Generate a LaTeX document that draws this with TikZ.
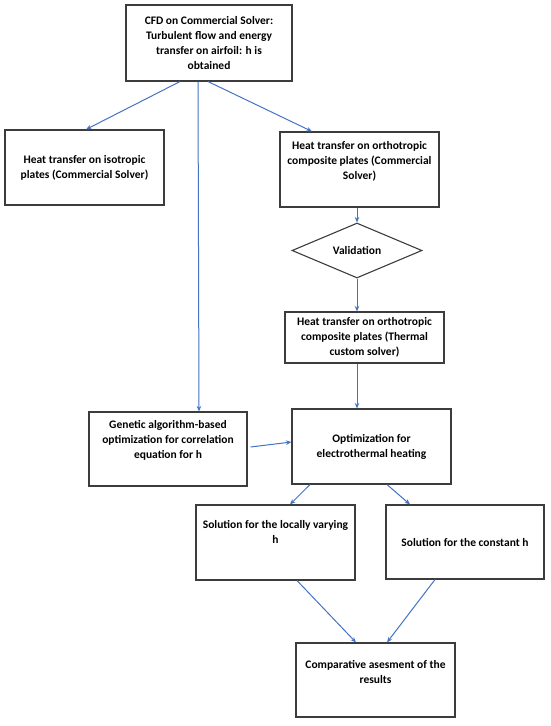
\documentclass[tikz,border=0pt]{standalone}
\usepackage{fontspec}
\setmainfont{Carlito}
\usetikzlibrary{shapes.geometric,arrows.meta}
\definecolor{arrowblue}{RGB}{68,114,196}
\definecolor{boxgray}{RGB}{60,60,60}
\begin{document}
\begin{tikzpicture}[x=1pt,y=-1pt,
  box/.style={draw=boxgray,line width=1.1pt,inner sep=0pt,align=center,
    font=\fontsize{11.5}{15}\selectfont\bfseries},
  arr/.style={draw=arrowblue,line width=1pt,-{Stealth[length=5.5pt,width=4.5pt]}}]
\useasboundingbox (0,0) rectangle (550,726);
\node[box,minimum width=166pt,minimum height=76pt] (top) at (209,43)
  {CFD on Commercial Solver:\\Turbulent flow and energy\\transfer on airfoil: h is\\obtained};
\node[box,minimum width=159pt,minimum height=75pt] (iso) at (84.5,167.5)
  {Heat transfer on isotropic\\plates (Commercial Solver)};
\node[box,minimum width=159pt,minimum height=75pt] (ortho) at (359.5,169.5)
  {Heat transfer on orthotropic\\composite plates (Commercial\\Solver)\\[4pt]};
\node[box,diamond,shape aspect=2.4,minimum width=130pt,minimum height=55pt] (valid) at (357,250.5)
  {Validation};
\node[box,minimum width=159pt,minimum height=51pt] (thermal) at (364.5,337.5)
  {Heat transfer on orthotropic\\composite plates (Thermal\\custom solver)};
\node[box,minimum width=158pt,minimum height=74pt] (genetic) at (168,449)
  {Genetic algorithm-based\\optimization for correlation\\equation for h\\[4pt]};
\node[box,minimum width=159pt,minimum height=75pt] (opt) at (371.5,446.5)
  {Optimization for\\electrothermal heating};
\node[box,minimum width=159pt,minimum height=75pt] (local) at (275.5,542.5)
  {Solution for the locally varying\\h\\[6pt]};
\node[box,minimum width=158pt,minimum height=74pt] (const) at (465,542)
  {Solution for the constant h};
\node[box,minimum width=159pt,minimum height=74pt] (comp) at (375.5,680)
  {Comparative asesment of the\\results\\[2pt]};
\draw[arr] ([xshift=-29pt]top.south) -- ([xshift=1.5pt]iso.north);
\draw[arr] ([xshift=-11pt]top.south) -- ([xshift=31pt]genetic.north);
\draw[arr] ([xshift=-1pt]top.south) -- ([xshift=-47.5pt]ortho.north);
\draw[arr] ([xshift=-2.5pt]ortho.south) -- (valid.north);
\draw[arr] (valid.south) -- ([xshift=-7.5pt]thermal.north);
\draw[arr] ([xshift=-7.5pt]thermal.south) -- ([xshift=-14.5pt]opt.north);
\draw[arr] ([xshift=3pt,yshift=2pt]genetic.east) -- ([yshift=4.5pt]opt.west);
\draw[arr] ([xshift=-61.5pt]opt.south) -- ([xshift=14.5pt]local.north);
\draw[arr] ([xshift=15.5pt]opt.south) -- ([xshift=-55pt]const.north);
\draw[arr] ([xshift=21.5pt]local.south) -- ([xshift=-19.5pt]comp.north);
\draw[arr] ([xshift=-30pt]const.south) -- ([xshift=11.5pt]comp.north);
\end{tikzpicture}
\end{document}
